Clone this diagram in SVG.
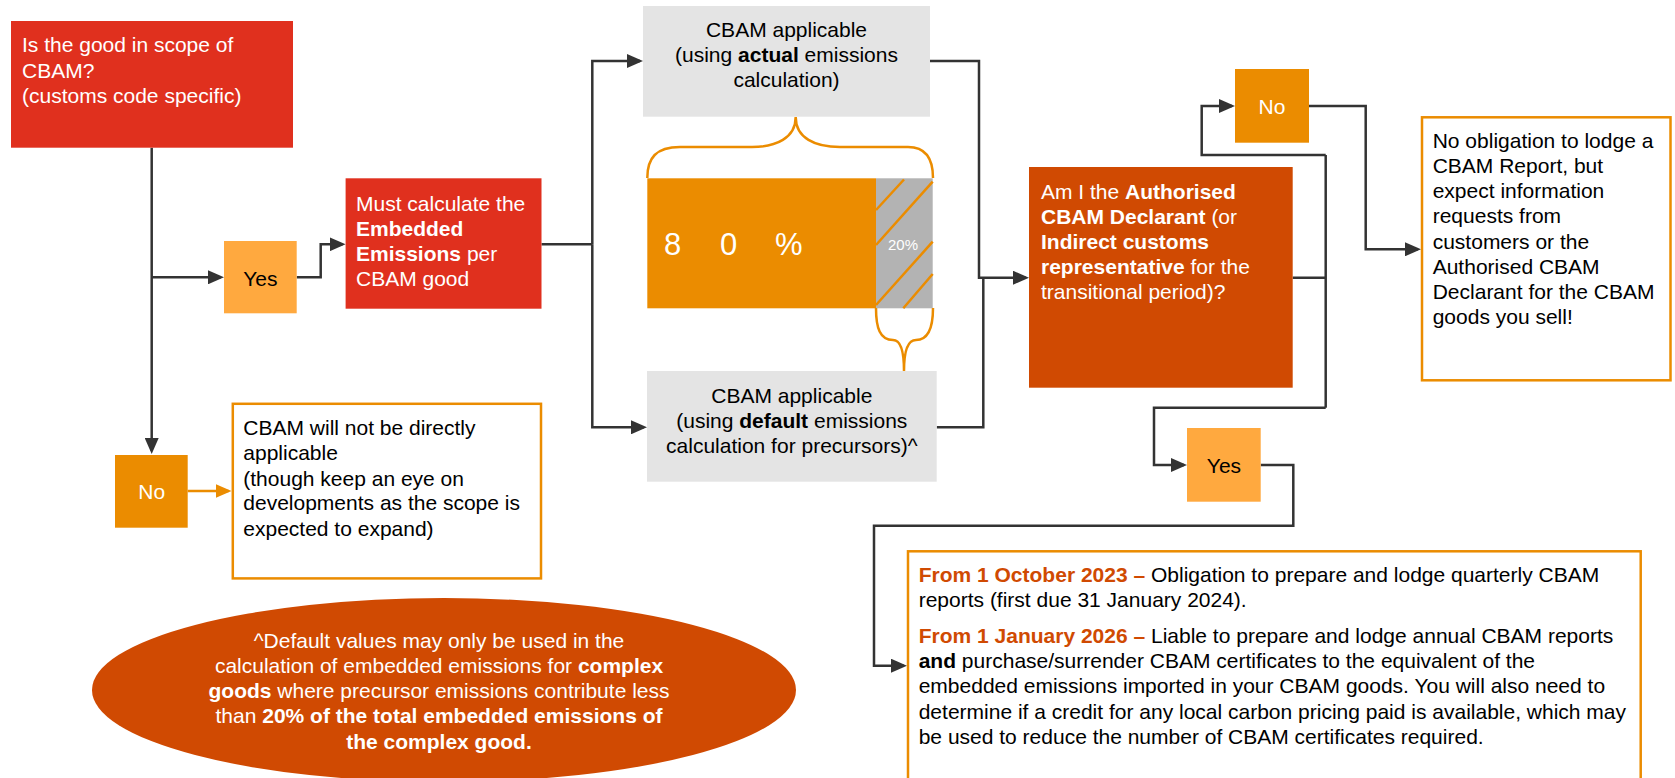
<svg xmlns="http://www.w3.org/2000/svg" width="1675" height="778" viewBox="0 0 1675 778">
<style>
text{font-family:"Liberation Sans",Arial,sans-serif;font-size:21px}
.w{fill:#fff}
.k{fill:#000}
.b{font-weight:bold}
.o{fill:#D04A02;font-weight:bold}
.c{text-anchor:middle}
.conn{fill:none;stroke:#333;stroke-width:2.5}
.oconn{fill:none;stroke:#EB8C00;stroke-width:2.5}
.red{fill:#E0301E}
.yes{fill:#FFA93F}
.no{fill:#EB8C00}
.dk{fill:#D04A02}
.gray{fill:#E4E4E4}
.obox{fill:#fff;stroke:#EB8C00;stroke-width:2.5}
.brace{fill:none;stroke:#EB8C00;stroke-width:2.5}
.hatch{stroke:#EB8C00;stroke-width:2.5}
</style>
<defs>
<marker id="ah" markerUnits="userSpaceOnUse" viewBox="0 0 16 14" refX="13" refY="7" markerWidth="16" markerHeight="14" orient="auto"><path d="M0,0 L16,7 L0,14 z" fill="#333"/></marker>
<marker id="aho" markerUnits="userSpaceOnUse" viewBox="0 0 16 14" refX="13" refY="7" markerWidth="16" markerHeight="14" orient="auto"><path d="M0,0 L16,7 L0,14 z" fill="#EB8C00"/></marker>
</defs>

<g id="connectors">
<path class="conn" d="M151.7,147.7 V451" marker-end="url(#ah)"/>
<path class="conn" d="M151.7,277.3 H221" marker-end="url(#ah)"/>
<path class="conn" d="M296.7,277.3 H320.7 V244.3 H342.6" marker-end="url(#ah)"/>
<path class="conn" d="M541.5,244.3 H592.3"/>
<path class="conn" d="M592.3,244.3 V61 H640" marker-end="url(#ah)"/>
<path class="conn" d="M592.3,244.3 V427.3 H644" marker-end="url(#ah)"/>
<path class="conn" d="M930,61 H979 V277.7 H1026" marker-end="url(#ah)"/>
<path class="conn" d="M936.7,427.3 H983.3 V277.7"/>
<path class="conn" d="M1292.7,277.7 H1325.7"/>
<path class="conn" d="M1325.7,155 V407.7"/>
<path class="conn" d="M1325.7,155 H1201.7 V106 H1232" marker-end="url(#ah)"/>
<path class="conn" d="M1325.7,407.7 H1154 V465 H1184" marker-end="url(#ah)"/>
<path class="conn" d="M1309,106 H1365.7 V249.3 H1418" marker-end="url(#ah)"/>
<path class="conn" d="M1260.7,465 H1293.3 V525.7 H874 V665.7 H904" marker-end="url(#ah)"/>
<path class="oconn" d="M187.7,491 H228.5" marker-end="url(#aho)"/>
</g>

<g id="scope-question">
<rect class="red" x="11" y="21" width="282" height="126.7"/>
<text class="w" x="22" y="52.3">Is the good in scope of</text>
<text class="w" x="22" y="77.7">CBAM?</text>
<text class="w" x="22" y="103.3">(customs code specific)</text>
</g>

<g id="yes1">
<rect class="yes" x="224" y="241" width="72.7" height="72.3"/>
<text class="k c" x="260.3" y="285.7">Yes</text>
</g>

<g id="calc-embedded">
<rect class="red" x="345.6" y="178.3" width="195.9" height="130.4"/>
<text class="w" x="356" y="211">Must calculate the</text>
<text class="w b" x="356" y="236">Embedded</text>
<text class="w" x="356" y="261"><tspan class="b">Emissions</tspan> per</text>
<text class="w" x="356" y="286">CBAM good</text>
</g>

<g id="actual-emissions">
<rect class="gray" x="643" y="6" width="287" height="110.7"/>
<text class="k c" x="786.5" y="36.7">CBAM applicable</text>
<text class="k c" x="786.5" y="61.7">(using <tspan class="b">actual</tspan> emissions</text>
<text class="k c" x="786.5" y="87.3">calculation)</text>
</g>

<g id="share-bar">
<path class="brace" d="M647.3,178 C647.3,158 656,147 680,147 L752,147 C776,147 795.7,138 795.7,117 C795.7,138 815,147 840,147 L908,147 C925,147 933,158 933,178"/>
<rect fill="#EB8C00" x="647.3" y="178.3" width="228.7" height="130"/>
<rect fill="#B3B3B3" x="876" y="178.3" width="56.7" height="130"/>
<line class="hatch" x1="876" y1="210" x2="904" y2="179.5"/>
<line class="hatch" x1="876" y1="245" x2="932.7" y2="181.7"/>
<line class="hatch" x1="876" y1="305" x2="932.7" y2="241.7"/>
<line class="hatch" x1="903.3" y1="308.3" x2="932.7" y2="274"/>
<text class="w" x="664 720 775" y="255" style="font-size:31px">80%</text>
<text class="w" x="888" y="250" style="font-size:15px">20%</text>
<path class="brace" d="M876,308 C876,328 880,340 893,340 C900,340 904,350 904,371 C904,350 908,340 916,340 C928,340 933,328 933,308"/>
</g>

<g id="default-emissions">
<rect class="gray" x="647" y="371" width="289.7" height="110.7"/>
<text class="k c" x="791.8" y="402.7">CBAM applicable</text>
<text class="k c" x="791.8" y="427.7">(using <tspan class="b">default</tspan> emissions</text>
<text class="k c" x="791.8" y="453.3">calculation for precursors)^</text>
</g>

<g id="declarant-question">
<rect class="dk" x="1029" y="167" width="263.7" height="220.7"/>
<text class="w" x="1041" y="199">Am I the <tspan class="b">Authorised</tspan></text>
<text class="w" x="1041" y="224"><tspan class="b">CBAM Declarant</tspan> (or</text>
<text class="w b" x="1041" y="249">Indirect customs</text>
<text class="w" x="1041" y="274"><tspan class="b">representative</tspan> for the</text>
<text class="w" x="1041" y="299.3">transitional period)?</text>
</g>

<g id="no2">
<rect class="no" x="1235" y="69" width="74" height="73.7"/>
<text class="w c" x="1272" y="114">No</text>
</g>

<g id="no-obligation">
<rect class="obox" x="1422" y="117.3" width="248.5" height="263"/>
<text class="k" x="1432.7" y="148.3">No obligation to lodge a</text>
<text class="k" x="1432.7" y="173.3">CBAM Report, but</text>
<text class="k" x="1432.7" y="198.3">expect information</text>
<text class="k" x="1432.7" y="223.3">requests from</text>
<text class="k" x="1432.7" y="249.3">customers or the</text>
<text class="k" x="1432.7" y="274.3">Authorised CBAM</text>
<text class="k" x="1432.7" y="299.3">Declarant for the CBAM</text>
<text class="k" x="1432.7" y="324.3">goods you sell!</text>
</g>

<g id="yes2">
<rect class="yes" x="1187" y="428" width="73.7" height="73.7"/>
<text class="k c" x="1224" y="472.7">Yes</text>
</g>

<g id="obligations">
<rect class="obox" x="908" y="551.3" width="732.7" height="240"/>
<text class="k" x="918.7" y="581.7"><tspan class="o">From 1 October 2023 –</tspan> Obligation to prepare and lodge quarterly CBAM</text>
<text class="k" x="918.7" y="606.7">reports (first due 31 January 2024).</text>
<text class="k" x="918.7" y="642.7"><tspan class="o">From 1 January 2026 –</tspan> Liable to prepare and lodge annual CBAM reports</text>
<text class="k" x="918.7" y="668.3"><tspan class="b">and</tspan> purchase/surrender CBAM certificates to the equivalent of the</text>
<text class="k" x="918.7" y="693.3">embedded emissions imported in your CBAM goods. You will also need to</text>
<text class="k" x="918.7" y="719.3">determine if a credit for any local carbon pricing paid is available, which may</text>
<text class="k" x="918.7" y="744.3">be used to reduce the number of CBAM certificates required.</text>
</g>

<g id="no1">
<rect class="no" x="115" y="455" width="72.7" height="72.7"/>
<text class="w c" x="151.7" y="499">No</text>
</g>

<g id="not-applicable">
<rect class="obox" x="232.8" y="403.8" width="308.2" height="174.6"/>
<text class="k" x="243.3" y="435">CBAM will not be directly</text>
<text class="k" x="243.3" y="460">applicable</text>
<text class="k" x="243.3" y="485.5">(though keep an eye on</text>
<text class="k" x="243.3" y="510">developments as the scope is</text>
<text class="k" x="243.3" y="535.7">expected to expand)</text>
</g>

<g id="default-note">
<ellipse class="dk" cx="444" cy="690" rx="352" ry="92"/>
<text class="w c" x="439" y="648.3">^Default values may only be used in the</text>
<text class="w c" x="439" y="673.3">calculation of embedded emissions for <tspan class="b">complex</tspan></text>
<text class="w c" x="439" y="698.3"><tspan class="b">goods</tspan> where precursor emissions contribute less</text>
<text class="w c" x="439" y="723.3">than <tspan class="b">20% of the total embedded emissions of</tspan></text>
<text class="w c b" x="439" y="749">the complex good.</text>
</g>
</svg>
